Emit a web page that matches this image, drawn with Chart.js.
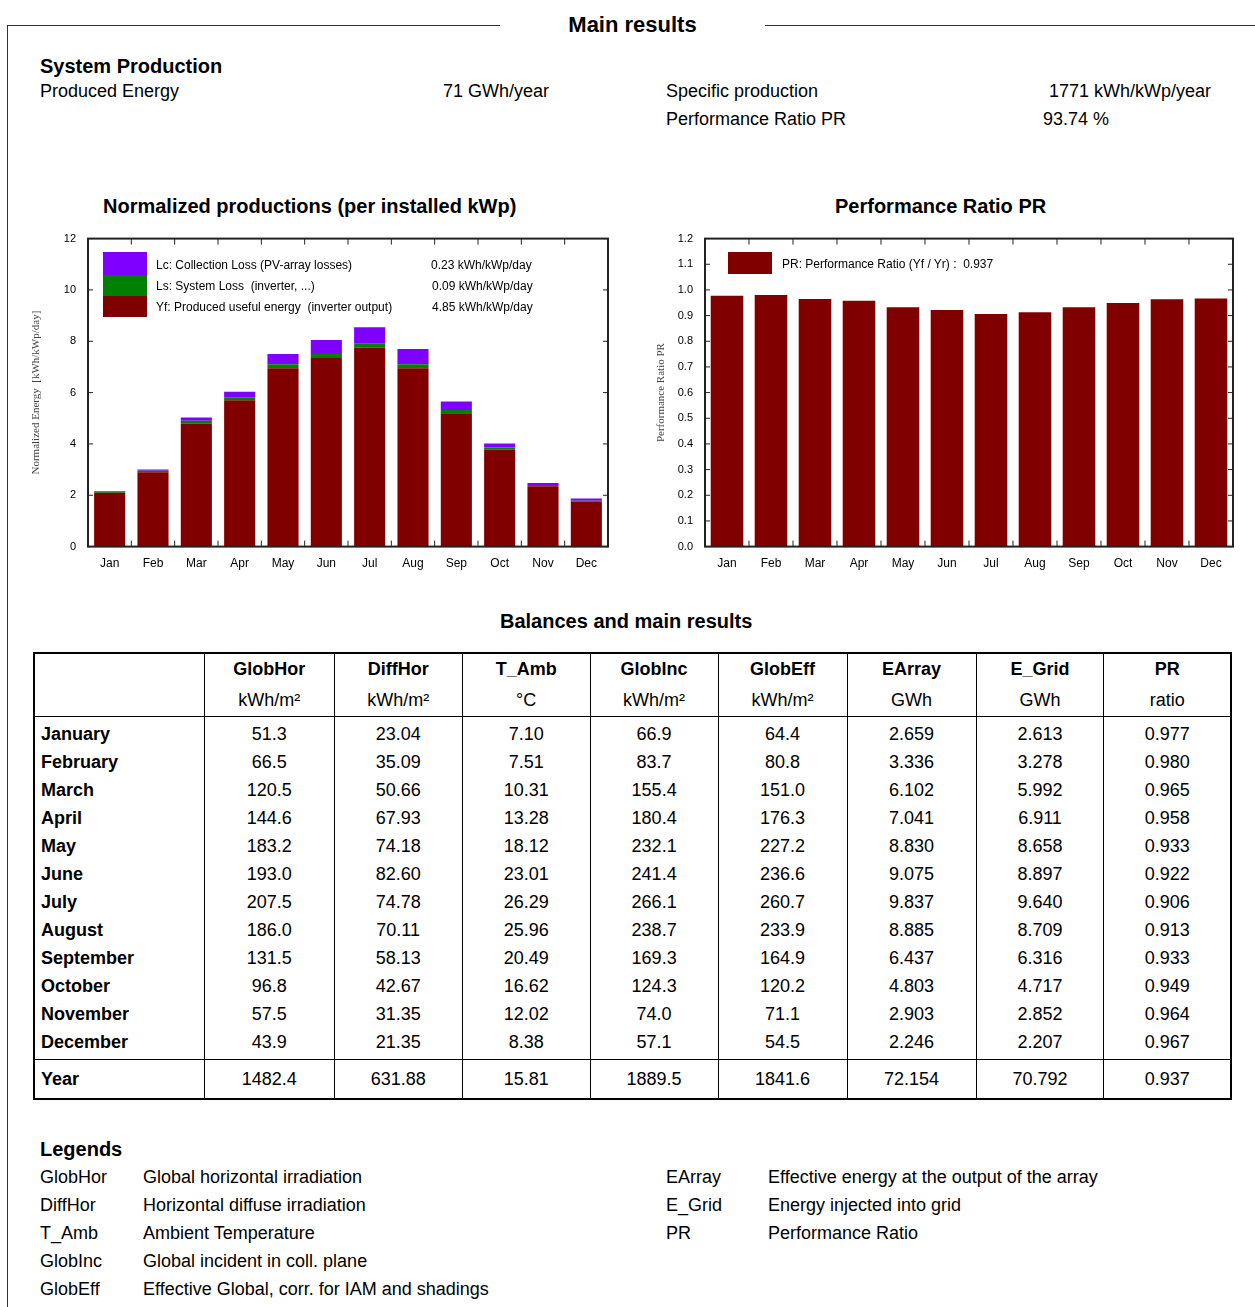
<!DOCTYPE html>
<html><head><meta charset="utf-8">
<script src="https://cdn.jsdelivr.net/npm/chart.js@4/dist/chart.umd.min.js"></script>
<style>
body{margin:0;width:1255px;height:1307px;background:#fff;font-family:"Liberation Sans",Arial,sans-serif;color:#000;position:relative;overflow:hidden}
.a{position:absolute;white-space:nowrap}
.frame{position:absolute;left:7px;top:25px;width:1260px;height:1300px;border-left:1.5px solid #333;border-top:1.5px solid #333}
.ttl{position:absolute;left:500px;top:12px;width:265px;background:#fff;text-align:center;font-weight:bold;font-size:22px}
.h{font-weight:bold;font-size:20px}
.t{font-size:18px}
.lg{font-size:12px}
.sw{position:absolute;width:44px}
table{position:absolute;left:33px;top:652px;width:1199px;table-layout:fixed;border-collapse:collapse;font-size:18px;border:2px solid #000}
td{text-align:center;padding:0;height:28px;border-left:1.5px solid #000;border-right:1.5px solid #000;overflow:hidden}
td:first-child{text-align:left;padding-left:6px;font-weight:bold}
tr.hd td{font-weight:bold;height:31px}
tr.hd2 td{font-weight:normal;height:31px;border-bottom:1.5px solid #000}
tr.first td{padding-top:3px}
tr.last td{border-bottom:1.5px solid #000;padding-bottom:3px}
tr.yr td{height:38px}
</style></head><body>
<div class="frame"></div>
<div class="ttl">Main results</div>
<div class="a h" style="left:40px;top:55px">System Production</div>
<div class="a t" style="left:40px;top:81px">Produced Energy</div>
<div class="a t" style="left:443px;top:81px">71 GWh/year</div>
<div class="a t" style="left:666px;top:81px">Specific production</div>
<div class="a t" style="left:1049px;top:81px">1771 kWh/kWp/year</div>
<div class="a t" style="left:666px;top:109px">Performance Ratio PR</div>
<div class="a t" style="left:1043px;top:109px">93.74 %</div>

<div class="a h" style="left:103px;top:195px">Normalized productions (per installed kWp)</div>
<div class="a h" style="left:835px;top:195px">Performance Ratio PR</div>

<div class="a" style="left:30px;top:228px;width:590px;height:345px"><canvas id="c1"></canvas></div>
<div class="a" style="left:655px;top:228px;width:585px;height:345px"><canvas id="c2"></canvas></div>

<div class="sw" style="left:103px;top:252px;height:23px;background:#8000ff"></div>
<div class="sw" style="left:103px;top:275px;height:21px;background:#008000"></div>
<div class="sw" style="left:103px;top:296px;height:21px;background:#800000"></div>
<div class="a lg" style="left:156px;top:258px">Lc: Collection Loss (PV-array losses)</div>
<div class="a lg" style="left:156px;top:279px">Ls: System Loss&nbsp; (inverter, ...)</div>
<div class="a lg" style="left:156px;top:300px">Yf: Produced useful energy&nbsp; (inverter output)</div>
<div class="a lg" style="left:431px;top:258px">0.23 kWh/kWp/day</div>
<div class="a lg" style="left:432px;top:279px">0.09 kWh/kWp/day</div>
<div class="a lg" style="left:432px;top:300px">4.85 kWh/kWp/day</div>
<div class="sw" style="left:728px;top:252px;height:22px;background:#800000"></div>
<div class="a lg" style="left:782px;top:257px">PR: Performance Ratio (Yf / Yr) :&nbsp; 0.937</div>

<div class="a h" style="left:500px;top:610px">Balances and main results</div>
<table id="tb"></table>

<div class="a h" style="left:40px;top:1138px">Legends</div>
<div id="leg"></div>

<script>
var months = ['Jan','Feb','Mar','Apr','May','Jun','Jul','Aug','Sep','Oct','Nov','Dec']
var yf = [2.10, 2.90, 4.80, 5.70, 6.95, 7.35, 7.75, 6.95, 5.20, 3.78, 2.35, 1.75]
var ls = [0.05, 0.06, 0.10, 0.12, 0.15, 0.15, 0.15, 0.15, 0.12, 0.08, 0.05, 0.04]
var lc = [0.02, 0.04, 0.13, 0.21, 0.40, 0.55, 0.65, 0.60, 0.33, 0.16, 0.08, 0.08]
var pr = [0.977, 0.980, 0.965, 0.958, 0.933, 0.922, 0.906, 0.913, 0.933, 0.949, 0.964, 0.967]

var rowNames = ['January','February','March','April','May','June','July','August','September','October','November','December','Year']
var colHeads = ['GlobHor','DiffHor','T_Amb','GlobInc','GlobEff','EArray','E_Grid','PR']
var colUnits = ['kWh/m²','kWh/m²','°C','kWh/m²','kWh/m²','GWh','GWh','ratio']
var globHor = ['51.3','66.5','120.5','144.6','183.2','193.0','207.5','186.0','131.5','96.8','57.5','43.9','1482.4']
var diffHor = ['23.04','35.09','50.66','67.93','74.18','82.60','74.78','70.11','58.13','42.67','31.35','21.35','631.88']
var tAmb = ['7.10','7.51','10.31','13.28','18.12','23.01','26.29','25.96','20.49','16.62','12.02','8.38','15.81']
var globInc = ['66.9','83.7','155.4','180.4','232.1','241.4','266.1','238.7','169.3','124.3','74.0','57.1','1889.5']
var globEff = ['64.4','80.8','151.0','176.3','227.2','236.6','260.7','233.9','164.9','120.2','71.1','54.5','1841.6']
var eArray = ['2.659','3.336','6.102','7.041','8.830','9.075','9.837','8.885','6.437','4.803','2.903','2.246','72.154']
var eGrid = ['2.613','3.278','5.992','6.911','8.658','8.897','9.640','8.709','6.316','4.717','2.852','2.207','70.792']
var prTab = ['0.977','0.980','0.965','0.958','0.933','0.922','0.906','0.913','0.933','0.949','0.964','0.967','0.937']
var legL = [['GlobHor','Global horizontal irradiation'],['DiffHor','Horizontal diffuse irradiation'],['T_Amb','Ambient Temperature'],['GlobInc','Global incident in coll. plane'],['GlobEff','Effective Global, corr. for IAM and shadings']]
var legR = [['EArray','Effective energy at the output of the array'],['E_Grid','Energy injected into grid'],['PR','Performance Ratio']]

// table
var widths = [169,129,127,127,127,128,128,127,126]
var cols = [globHor, diffHor, tAmb, globInc, globEff, eArray, eGrid, prTab]
var html = '<colgroup>' + widths.map(w => `<col style="width:${w}px">`).join('') + '</colgroup>'
html += '<tr class="hd"><td></td>' + colHeads.map(h => `<td>${h}</td>`).join('') + '</tr>'
html += '<tr class="hd2"><td></td>' + colUnits.map(u => `<td>${u}</td>`).join('') + '</tr>'
rowNames.forEach((r, i) => {
    var cls = i === 0 ? 'first' : (i === 11 ? 'last' : (i === 12 ? 'yr' : ''))
    html += `<tr class="${cls}"><td>${r}</td>` + cols.map(c => `<td>${c[i]}</td>`).join('') + '</tr>'
})
document.getElementById('tb').innerHTML = html
var lh = ''
legL.forEach((l, i) => {
    lh += `<div class="a t" style="left:40px;top:${1167 + i*28}px">${l[0]}</div><div class="a t" style="left:143px;top:${1167 + i*28}px">${l[1]}</div>`
})
legR.forEach((l, i) => {
    lh += `<div class="a t" style="left:666px;top:${1167 + i*28}px">${l[0]}</div><div class="a t" style="left:768px;top:${1167 + i*28}px">${l[1]}</div>`
})
document.getElementById('leg').innerHTML = lh

// frame + inward ticks
var boxPlugin = {
    id: 'box',
    afterDraw: (chart) => {
        var c = chart.ctx, a = chart.chartArea, ys = chart.scales.y
        c.save()
        c.strokeStyle = '#222'
        c.lineWidth = 2
        c.strokeRect(a.left, a.top, a.right - a.left, a.bottom - a.top)
        c.lineWidth = 1
        ys.ticks.forEach((t, i) => {
            var y = ys.getPixelForTick(i)
            c.beginPath(); c.moveTo(a.left, y); c.lineTo(a.left + 5, y); c.moveTo(a.right, y); c.lineTo(a.right - 5, y); c.stroke()
        })
        for (var i = 0; i <= months.length; i++) {
            var x = a.left + (a.right - a.left) * i / months.length
            c.beginPath(); c.moveTo(x, a.top); c.lineTo(x, a.top + 6); c.moveTo(x, a.bottom); c.lineTo(x, a.bottom - 6); c.stroke()
        }
        c.restore()
    }
}
Chart.defaults.font.family = '"Liberation Sans", Arial, sans-serif'
Chart.defaults.color = '#000'
var axisCommon = (max, step, width, title, dec) => ({
    x: { stacked: true, grid: { display: false }, border: { display: false }, ticks: { font: { size: 12 }, padding: 2 } },
    y: {
        stacked: true, min: 0, max: max, grid: { display: false }, border: { display: false },
        ticks: { stepSize: step, font: { size: 11 }, padding: 4, callback: (v) => v.toFixed(dec) },
        title: { display: true, text: title, font: { family: '"Liberation Serif", serif', size: 11 }, color: '#444', padding: 0 },
        afterFit: (s) => { s.width = width }
    }
})
new Chart(document.getElementById('c1'), {
    type: 'bar',
    data: {
        labels: months,
        datasets: [
            { label: 'Yf', data: yf, backgroundColor: '#800000', barPercentage: 0.92, categoryPercentage: 0.78 },
            { label: 'Ls', data: ls, backgroundColor: '#008000', barPercentage: 0.92, categoryPercentage: 0.78 },
            { label: 'Lc', data: lc, backgroundColor: '#8000ff', barPercentage: 0.92, categoryPercentage: 0.78 }
        ]
    },
    options: {
        responsive: true, maintainAspectRatio: false, animation: false,
        layout: { padding: { top: 8, right: 12 } },
        plugins: { legend: { display: false }, tooltip: { enabled: false } },
        scales: axisCommon(12, 2, 58, 'Normalized Energy  [kWh/kWp/day]', 0)
    },
    plugins: [boxPlugin]
})
new Chart(document.getElementById('c2'), {
    type: 'bar',
    data: {
        labels: months,
        datasets: [{ label: 'PR', data: pr, backgroundColor: '#800000', barPercentage: 0.95, categoryPercentage: 0.78 }]
    },
    options: {
        responsive: true, maintainAspectRatio: false, animation: false,
        layout: { padding: { top: 8, right: 7 } },
        plugins: { legend: { display: false }, tooltip: { enabled: false } },
        scales: axisCommon(1.2, 0.1, 50, 'Performance Ratio PR', 1)
    },
    plugins: [boxPlugin]
})
</script>
</body></html>
